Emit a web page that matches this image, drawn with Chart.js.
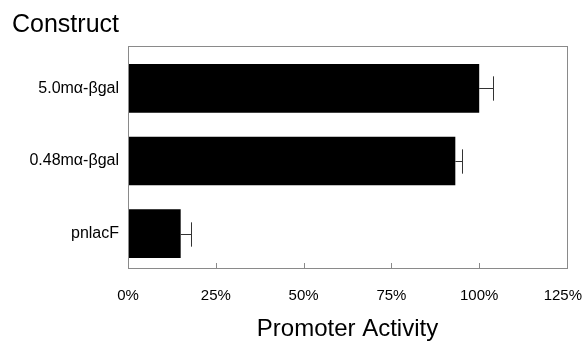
<!DOCTYPE html>
<html>
<head>
<meta charset="utf-8">
<script src="https://cdn.jsdelivr.net/npm/chart.js@4.4.1/dist/chart.umd.min.js"></script>
<style>
  html, body { margin: 0; padding: 0; background: #fff; }
  #wrap { width: 583px; height: 341px; }
</style>
</head>
<body>
<div id="wrap"><canvas id="c" width="583" height="341"></canvas></div>
<script>
// Constructs and their measured promoter activity (% of full-length)
const constructs = ['5.0mα-βgal', '0.48mα-βgal', 'pnlacF'];
const activity = [100, 93.2, 15];
const activityError = [3.9, 2.0, 3.0];
const xTicks = [0, 25, 50, 75, 100, 125];

const FONT = '"Liberation Sans", Arial, Helvetica, sans-serif';

// Plot frame (with a little headroom above the bars) plus short inward ticks
const framePlugin = {
  id: 'frame',
  afterDatasetsDraw(chart) {
    const { ctx, chartArea: a, scales } = chart;
    const top = a.top - 6;
    const bottom = a.bottom - 2;
    ctx.save();
    ctx.strokeStyle = '#8a8a8a';
    ctx.lineWidth = 1;
    ctx.strokeRect(a.left + 0.5, top + 0.5, a.right - a.left, bottom - top);
    ctx.beginPath();
    xTicks.forEach(v => {
      const x = Math.round(scales.x.getPixelForValue(v)) + 0.5;
      ctx.moveTo(x, bottom);
      ctx.lineTo(x, bottom - 5);
    });
    ctx.stroke();
    ctx.restore();
  }
};

// One-sided error bars extending to the right of each bar
const errorBarPlugin = {
  id: 'errorBars',
  afterDatasetsDraw(chart) {
    const { ctx, scales } = chart;
    const meta = chart.getDatasetMeta(0);
    ctx.save();
    ctx.strokeStyle = '#333';
    ctx.lineWidth = 1;
    meta.data.forEach((bar, i) => {
      const x0 = scales.x.getPixelForValue(activity[i]);
      const x1 = Math.round(scales.x.getPixelForValue(activity[i] + activityError[i])) + 0.5;
      const y = Math.round(bar.y) + 0.5;
      const half = bar.height / 4;
      ctx.beginPath();
      ctx.moveTo(x0, y);
      ctx.lineTo(x1, y);
      ctx.moveTo(x1, y - half);
      ctx.lineTo(x1, y + half);
      ctx.stroke();
    });
    ctx.restore();
  }
};

new Chart(document.getElementById('c'), {
  type: 'bar',
  data: {
    labels: constructs,
    datasets: [{
      data: activity,
      backgroundColor: '#000',
      borderWidth: 0,
      categoryPercentage: 1,
      barPercentage: 0.67
    }]
  },
  options: {
    indexAxis: 'y',
    responsive: false,
    animation: false,
    devicePixelRatio: 1,
    layout: { padding: { left: 12, right: 0, top: 0, bottom: 0 } },
    plugins: {
      legend: { display: false },
      tooltip: { enabled: false },
      title: {
        display: true,
        text: 'Construct',
        align: 'start',
        color: '#000',
        font: { family: FONT, size: 25, weight: 'normal', lineHeight: 1.2 },
        padding: { top: 10, bottom: 12 }
      }
    },
    scales: {
      x: {
        type: 'linear',
        min: 0,
        max: 125,
        afterBuildTicks(scale) { scale.ticks = xTicks.map(v => ({ value: v })); },
        afterFit(scale) {
          scale.height = 71;
          scale.paddingLeft = 0;
          scale.paddingRight = 16;
        },
        grid: { display: false, tickLength: 0 },
        border: { display: false },
        ticks: {
          color: '#000',
          padding: 17,
          maxRotation: 0,
          font: { family: FONT, size: 15 },
          // trailing spaces keep the last label inside the canvas edge
          callback: (v, i, ticks) => v + '%' + (i === ticks.length - 1 ? '  ' : '')
        },
        title: {
          display: true,
          text: 'Promoter Activity',
          color: '#000',
          font: { family: FONT, size: 24, lineHeight: 1.0 },
          padding: { top: 0, bottom: 0 }
        }
      },
      y: {
        afterFit(scale) { scale.width = 116; },
        grid: { display: false, tickLength: 0 },
        border: { display: false },
        ticks: {
          color: '#000',
          padding: 9,
          font: { family: FONT, size: 16 }
        }
      }
    }
  },
  plugins: [framePlugin, errorBarPlugin]
});
</script>
</body>
</html>
